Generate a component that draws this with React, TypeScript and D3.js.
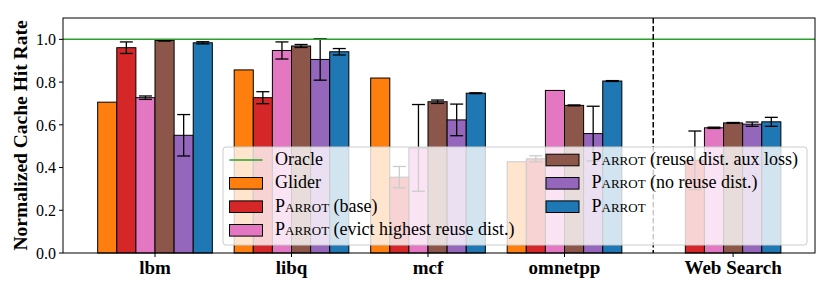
import * as d3 from 'd3'

// benchmark groups (Web Search has no Glider bar)
const categories = ['lbm', 'libq', 'mcf', 'omnetpp', 'Web Search']
const groupPos = [0, 1, 2, 3, 4.235]
const splitPos = 3.65
const yTicks = [0, 0.2, 0.4, 0.6, 0.8, 1.0]

const glider = [0.706, 0.857, 0.819, 0.427, null]
const gliderErr = [0, 0, 0, 0, 0]
const parrotBase = [0.961, 0.727, 0.355, 0.441, 0.434]
const parrotBaseErr = [0.027, 0.028, 0.05, 0.014, 0.137]
const parrotEvict = [0.727, 0.948, 0.492, 0.761, 0.586]
const parrotEvictErr = [0.008, 0.04, 0.203, 0, 0.003]
const parrotAux = [0.995, 0.969, 0.708, 0.691, 0.609]
const parrotAuxErr = [0.003, 0.007, 0.008, 0.002, 0.002]
const parrotNoReuse = [0.551, 0.906, 0.623, 0.559, 0.603]
const parrotNoReuseErr = [0.097, 0.097, 0.074, 0.128, 0.01]
const parrotFull = [0.984, 0.942, 0.748, 0.805, 0.614]
const parrotFullErr = [0.005, 0.015, 0.002, 0.002, 0.021]
const oracle = 1.0

const series = [
  { name: 'Glider', caps: false, values: glider, err: gliderErr, color: '#ff7f0e' },
  { name: '(base)', caps: true, values: parrotBase, err: parrotBaseErr, color: '#d62728' },
  { name: '(evict highest reuse dist.)', caps: true, values: parrotEvict, err: parrotEvictErr, color: '#e377c2' },
  { name: '(reuse dist. aux loss)', caps: true, values: parrotAux, err: parrotAuxErr, color: '#8c564b' },
  { name: '(no reuse dist.)', caps: true, values: parrotNoReuse, err: parrotNoReuseErr, color: '#9467bd' },
  { name: '', caps: true, values: parrotFull, err: parrotFullErr, color: '#1f77b4' },
]

const W = 830
const H = 291
const margin = { top: 18, right: 15, bottom: 38, left: 63 }
const FONT = "'Times New Roman', Tinos, serif"
const barW = 0.14

function Label({ s }: { s: { name: string; caps: boolean } }) {
  if (!s.caps) return <>{s.name}</>
  return (
    <>
      <tspan style={{ fontVariant: 'small-caps' }}>Parrot</tspan>
      {s.name ? ' ' + s.name : ''}
    </>
  )
}

export default function App() {
  const x = d3.scaleLinear().domain([-0.674, 4.835]).range([margin.left, W - margin.right])
  const y = d3.scaleLinear().domain([0, 1.1]).range([H - margin.bottom, margin.top])
  const px = x(barW) - x(0)
  const tickTxt = { fontFamily: FONT, fontSize: '16px' }
  const catTxt = { fontFamily: FONT, fontSize: '19px', fontWeight: 'bold' }
  const legTxt = { fontFamily: FONT, fontSize: '18px' }

  const bars: JSX.Element[] = []
  const errs: JSX.Element[] = []
  categories.forEach((c, gi) => {
    const present = series.filter(s => s.values[gi] != null)
    present.forEach((s, k) => {
      const v = s.values[gi] as number
      const cx = groupPos[gi] + (k - (present.length - 1) / 2) * barW
      const x0 = x(cx) - px / 2
      bars.push(
        <rect key={`b-${gi}-${k}`} x={x0} y={y(v)} width={px} height={y(0) - y(v)}
          fill={s.color} stroke="#000" strokeWidth={1} />
      )
      const e = s.err[gi]
      if (e > 0) {
        const xc = x(cx)
        errs.push(
          <g key={`e-${gi}-${k}`} stroke="#000" strokeWidth={1.3}>
            <line x1={xc} x2={xc} y1={y(v - e)} y2={y(v + e)} />
            <line x1={xc - 6.5} x2={xc + 6.5} y1={y(v - e)} y2={y(v - e)} />
            <line x1={xc - 6.5} x2={xc + 6.5} y1={y(v + e)} y2={y(v + e)} />
          </g>
        )
      }
    })
  })

  // legend layout
  const lx = 223, ly = 147, lw = 584, lh = 98
  const col1 = [{ line: true, s: { name: 'Oracle', caps: false }, color: '#2ca02c' },
    ...series.slice(0, 3).map(s => ({ line: false, s, color: s.color }))]
  const col2 = series.slice(3).map(s => ({ line: false, s, color: s.color }))
  const rowY = [160, 183.3, 206.7, 230.3]
  const cols = [{ hx: 229.5, tx: 275, items: col1 }, { hx: 546, tx: 591.5, items: col2 }]

  return (
    <svg width={W} height={H} style={{ position: 'absolute', left: 0, top: 0, background: '#fff' }}>
      {bars}
      {errs}
      <line x1={margin.left} x2={W - margin.right} y1={y(oracle)} y2={y(oracle)} stroke="#2ca02c" strokeWidth={1.5} />
      <line x1={x(splitPos)} x2={x(splitPos)} y1={margin.top} y2={H - margin.bottom}
        stroke="#000" strokeWidth={1.5} strokeDasharray="5.5,2.5" />
      {/* axes frame */}
      <rect x={margin.left} y={margin.top} width={W - margin.left - margin.right}
        height={H - margin.top - margin.bottom} fill="none" stroke="#000" strokeWidth={1} />
      {yTicks.map(t => (
        <g key={t}>
          <line x1={margin.left - 4} x2={margin.left} y1={y(t)} y2={y(t)} stroke="#000" />
          <text x={margin.left - 7} y={y(t)} dy="0.36em" textAnchor="end" style={tickTxt}>{t.toFixed(1)}</text>
        </g>
      ))}
      {categories.map((c, i) => (
        <g key={c}>
          <line x1={x(groupPos[i])} x2={x(groupPos[i])} y1={H - margin.bottom} y2={H - margin.bottom + 4} stroke="#000" />
          <text x={x(groupPos[i])} y={273.5} textAnchor="middle" style={catTxt}>{c}</text>
        </g>
      ))}
      <text transform={`translate(27,${(margin.top + H - margin.bottom) / 2}) rotate(-90)`} textAnchor="middle"
        style={{ ...catTxt, fontSize: '19.5px' }}>Normalized Cache Hit Rate</text>
      {/* legend */}
      <rect x={lx} y={ly} width={lw} height={lh} rx={3} fill="#fff" fillOpacity={0.8} stroke="#cccccc" strokeWidth={1} />
      {cols.map((col, ci) => col.items.map((it, ri) => (
        <g key={`l-${ci}-${ri}`}>
          {it.line
            ? <line x1={col.hx} x2={col.hx + 33} y1={rowY[ri]} y2={rowY[ri]} stroke={it.color} strokeWidth={1.5} />
            : <rect x={col.hx} y={rowY[ri] - 5.8} width={33} height={11.6} fill={it.color} stroke="#000" strokeWidth={1} />}
          <text x={col.tx} y={rowY[ri] + 5} style={legTxt}><Label s={it.s} /></text>
        </g>
      )))}
    </svg>
  )
}
